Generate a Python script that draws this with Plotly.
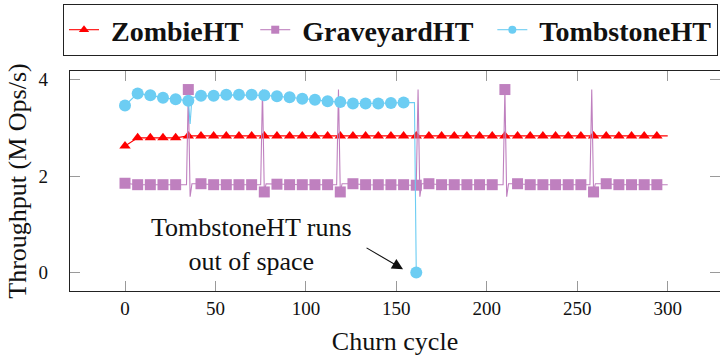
import plotly.graph_objects as go

# ---------------- data ----------------
mark_x = [0, 7, 14, 21, 28, 35, 42, 49, 56, 63, 70, 77, 84, 91, 98, 105, 112, 119,
          126, 133, 140, 147, 154, 161, 168, 175, 182, 189, 196, 203, 210, 217, 224,
          231, 238, 245, 252, 259, 266, 273, 280, 287, 294]

zombie_mark_y = [2.62, 2.79, 2.79, 2.79, 2.79, 2.83, 2.83, 2.83, 2.83, 2.83, 2.83, 2.83,
                 2.83, 2.83, 2.83, 2.83, 2.83, 2.83, 2.83, 2.83, 2.83, 2.83, 2.83, 2.83,
                 2.83, 2.83, 2.83, 2.83, 2.83, 2.83, 2.83, 2.83, 2.83, 2.83, 2.83, 2.83,
                 2.83, 2.83, 2.83, 2.83, 2.83, 2.83, 2.83]
zombie_extra_x = [300]
zombie_extra_y = [2.83]

graveyard_mark_y = [1.85, 1.82, 1.82, 1.82, 1.82, 3.79, 1.84, 1.82, 1.82, 1.82, 1.82, 1.67,
                    1.83, 1.82, 1.82, 1.82, 1.82, 1.67, 1.84, 1.82, 1.82, 1.82, 1.82, 1.81,
                    1.84, 1.82, 1.82, 1.82, 1.82, 1.82, 3.79, 1.84, 1.82, 1.82, 1.82, 1.82,
                    1.82, 1.67, 1.84, 1.82, 1.82, 1.82, 1.82]
graveyard_extra_x = [34, 36, 37, 75, 76, 78, 117, 118, 120, 162, 163, 164, 209, 211, 212,
                     257, 258, 260, 300]
graveyard_extra_y = [1.82, 1.57, 1.84, 1.82, 3.79, 1.84, 1.82, 3.79, 1.84, 3.79, 1.57, 1.84,
                     1.82, 1.57, 1.84, 1.82, 3.79, 1.84, 1.82]

tomb_mark_x = [0, 7, 14, 21, 28, 35, 42, 49, 56, 63, 70, 77, 84, 91, 98, 105, 112, 119,
               126, 133, 140, 147, 154, 161]
tomb_mark_y = [3.46, 3.71, 3.67, 3.62, 3.59, 3.56, 3.66, 3.66, 3.68, 3.68, 3.68, 3.67,
               3.65, 3.63, 3.60, 3.58, 3.55, 3.53, 3.50, 3.50, 3.50, 3.51, 3.52, 0.0]
tomb_extra_x = [36, 37, 160]
tomb_extra_y = [3.08, 3.62, 3.52]

series_names = ["ZombieHT", "GraveyardHT", "TombstoneHT"]
x_ticks = [0, 50, 100, 150, 200, 250, 300]
y_ticks = [0, 2, 4]

RED = "#FF0000"
PURPLE = "#BF80BF"
BLUE = "#6CCDF3"
FONT = "Liberation Serif"
NB = "\u00a0"


def merged(mx, my, ex, ey):
    pts = sorted(list(zip(mx, my)) + list(zip(ex, ey)), key=lambda p: p[0])
    return [p[0] for p in pts], [p[1] for p in pts]


fig = go.Figure()

specs = [
    (NB + series_names[0] + NB, mark_x, zombie_mark_y, zombie_extra_x, zombie_extra_y, RED, "triangle-up", 10, 9),
    (NB + series_names[1] + NB * 2, mark_x, graveyard_mark_y, graveyard_extra_x, graveyard_extra_y, PURPLE, "square", 11, 8),
    (NB + series_names[2], tomb_mark_x, tomb_mark_y, tomb_extra_x, tomb_extra_y, BLUE, "circle", 12, 8),
]

for name, mx, my, ex, ey, col, sym, sz, lsz in specs:
    lx, ly = merged(mx, my, ex, ey)
    fig.add_trace(go.Scatter(x=lx, y=ly, mode="lines", line=dict(color=col, width=1.1),
                             showlegend=False, hoverinfo="skip"))
    fig.add_trace(go.Scatter(x=mx, y=my, mode="markers",
                             marker=dict(symbol=sym, size=sz, color=col, line=dict(width=0)),
                             showlegend=False))
    fig.add_trace(go.Scatter(x=[None], y=[None], mode="lines+markers", name=name,
                             line=dict(color=col, width=1.1),
                             marker=dict(symbol=sym, size=lsz, color=col, line=dict(width=0))))

# dummy trace for right-side ticks
fig.add_trace(go.Scatter(x=[None], y=[None], yaxis="y2", showlegend=False))

fig.add_annotation(x=70.2, y=0.586, xref="x", yref="y", text="TombstoneHT runs<br>out of space",
                   showarrow=False, font=dict(family=FONT, size=26, color="#111"))
fig.add_annotation(x=153.7, y=0.07, ax=132.7, ay=0.53, xref="x", yref="y", axref="x", ayref="y",
                   text="", showarrow=True, arrowhead=2, arrowsize=2, arrowwidth=1.1,
                   arrowcolor="#111", standoff=0, startstandoff=0)

fig.update_layout(
    width=720, height=356,
    margin=dict(l=70, r=0, t=71, b=65, autoexpand=False),
    paper_bgcolor="white", plot_bgcolor="white",
    font=dict(family=FONT, color="#111"),
    showlegend=True,
    legend=dict(orientation="h", xref="container", yref="container", x=63 / 720, y=1 - 4 / 356,
                xanchor="left", yanchor="top", bordercolor="#222", borderwidth=1,
                bgcolor="white", font=dict(family=FONT, size=28, weight="bold", color="#111"),
                itemwidth=30, tracegroupgap=0),
    xaxis=dict(range=[-30.4, 328.9], tickvals=x_ticks, ticks="inside", ticklen=10, tickwidth=1,
               tickcolor="#9a9a9a", showline=True, linecolor="#222", linewidth=1.3, mirror="ticks",
               showgrid=False, zeroline=False, tickfont=dict(family=FONT, size=19),
               ticklabelstandoff=0,
               title=dict(text="Churn cycle", font=dict(family=FONT, size=26), standoff=13)),
    yaxis=dict(range=[-0.381, 4.174], tickvals=y_ticks, ticks="inside", ticklen=10, tickwidth=1,
               tickcolor="#9a9a9a", showline=True, linecolor="#222", linewidth=1.3,
               showgrid=False, zeroline=False, tickfont=dict(family=FONT, size=19),
               ticklabelstandoff=17,
               title=dict(text="Throughput (M Ops/s)", font=dict(family=FONT, size=26), standoff=4)),
    yaxis2=dict(range=[-0.381, 4.174], tickvals=y_ticks, ticks="inside", ticklen=10, tickwidth=1,
                tickcolor="#9a9a9a", overlaying="y", side="right", anchor="x", showline=False,
                showgrid=False, zeroline=False, showticklabels=False),
)

fig.write_html("out.html")
